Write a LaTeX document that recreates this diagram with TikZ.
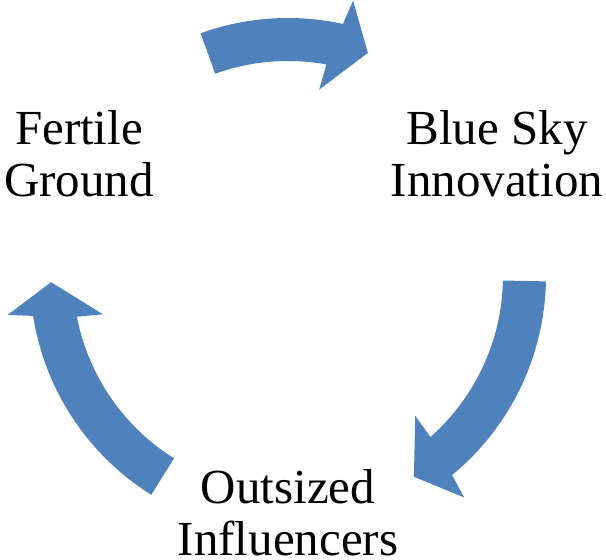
\documentclass[tikz,border=0pt]{standalone}
\usepackage{fontspec}
\setmainfont{Liberation Serif}
\usetikzlibrary{calc}
\definecolor{cyclefill}{HTML}{4F81BD}
\begin{document}
\begin{tikzpicture}[x=1pt,y=1pt,
  cyclelabel/.style={align=center, font=\fontsize{49}{52}\selectfont, inner sep=0pt, text depth=0pt, anchor=base},
  cyclearrow/.style={fill=cyclefill}]
\useasboundingbox (0,0) rectangle (606,560);
\coordinate (c) at (288,284);
% three curved arrows on a common circle, running clockwise
\foreach \tail/\tip in {109.8/70.3, -1.2/-57.9, 238/181.5}{
  \pgfmathsetmacro\oj{\tip+7.4}
  \pgfmathsetmacro\ij{\tip+9.4}
  \fill[cyclearrow] ($(c)+(\tail:258)$) arc[start angle=\tail, end angle=\oj, radius=258]
     -- ($(c)+(\tip+6.4:283)$) -- ($(c)+(\tip:237)$) -- ($(c)+(\tip+10.2:189)$)
     -- ($(c)+(\ij:215)$) arc[start angle=\ij, end angle=\tail, radius=215] -- cycle;
}
% labels: the base anchor sits on the baseline of the second line
\node[cyclelabel] (fertile) at (79,363.5) {Fertile\\Ground};
\node[cyclelabel] (bluesky) at (497,363.5) {Blue Sky\\Innovation};
\node[cyclelabel] (outsized) at (288,4) {Outsized\\Influencers};
\end{tikzpicture}
\end{document}
